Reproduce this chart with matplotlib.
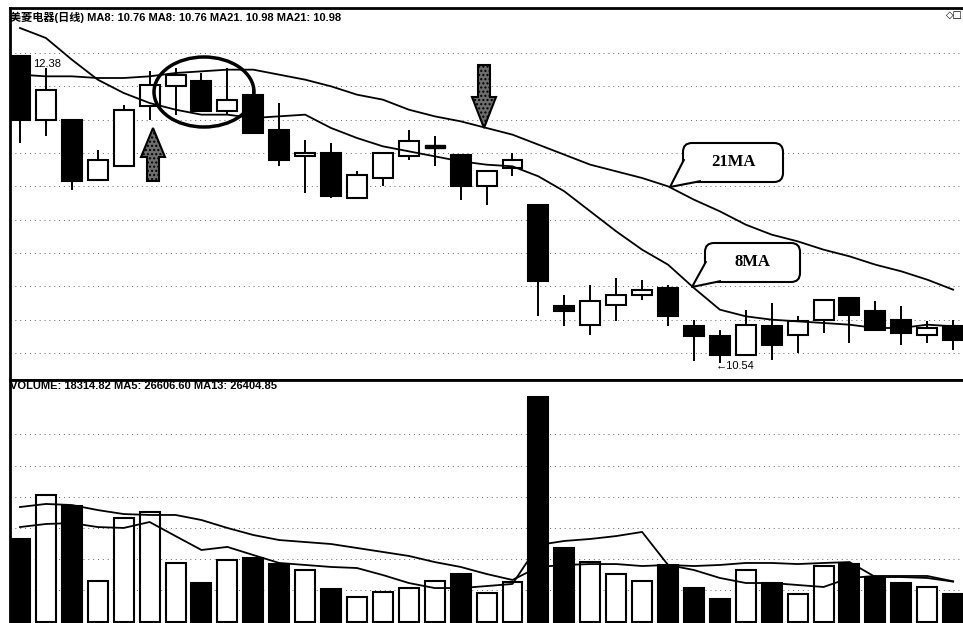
import matplotlib
matplotlib.use("Agg")
import matplotlib.pyplot as plt
from matplotlib.patches import Rectangle, Ellipse, Polygon, FancyBboxPatch
import numpy as np

# daily candles (price)
opens  = [12.38, 12.00, 12.00, 11.64, 11.72, 12.08, 12.20, 12.23, 12.05, 12.15,
          11.94, 11.78, 11.80, 11.53, 11.65, 11.78, 11.84, 11.79, 11.60, 11.71,
          11.49, 10.88, 10.77, 10.89, 10.95, 10.99, 10.76, 10.70, 10.59, 10.76,
          10.71, 10.80, 10.93, 10.85, 10.80, 10.71, 10.76]
highs  = [12.38, 12.31, 12.00, 11.82, 12.09, 12.29, 12.31, 12.28, 12.31, 12.22,
          12.10, 11.88, 11.86, 11.69, 11.80, 11.94, 11.90, 11.79, 11.69, 11.80,
          11.49, 10.95, 11.01, 11.05, 11.04, 11.01, 10.80, 10.74, 10.86, 10.90,
          10.82, 10.92, 10.93, 10.91, 10.88, 10.79, 10.80]
lows   = [11.86, 11.90, 11.58, 11.64, 11.72, 12.00, 12.03, 12.05, 12.03, 11.92,
          11.72, 11.56, 11.53, 11.53, 11.60, 11.76, 11.72, 11.52, 11.49, 11.66,
          10.82, 10.76, 10.71, 10.79, 10.92, 10.76, 10.55, 10.54, 10.58, 10.56,
          10.60, 10.72, 10.66, 10.74, 10.65, 10.66, 10.62]
closes = [12.00, 12.18, 11.63, 11.76, 12.06, 12.21, 12.27, 12.05, 12.12, 11.92,
          11.76, 11.80, 11.54, 11.67, 11.80, 11.87, 11.84, 11.60, 11.69, 11.76,
          11.03, 10.85, 10.91, 10.95, 10.98, 10.82, 10.70, 10.59, 10.77, 10.65,
          10.79, 10.92, 10.83, 10.74, 10.72, 10.75, 10.68]

ma8  = [12.55, 12.49, 12.36, 12.24, 12.16, 12.10, 12.06, 12.03, 12.03, 12.01,
        12.02, 12.03, 11.95, 11.89, 11.84, 11.81, 11.78, 11.75, 11.73, 11.72,
        11.66, 11.57, 11.45, 11.33, 11.22, 11.13, 10.99, 10.86, 10.82, 10.80,
        10.79, 10.78, 10.77, 10.75, 10.75, 10.77, 10.76]
ma21 = [12.27, 12.26, 12.26, 12.25, 12.25, 12.26, 12.28, 12.29, 12.30, 12.30,
        12.27, 12.24, 12.20, 12.15, 12.12, 12.06, 12.02, 11.99, 11.95, 11.91,
        11.85, 11.79, 11.73, 11.69, 11.65, 11.60, 11.52, 11.45, 11.37, 11.31,
        11.27, 11.22, 11.18, 11.13, 11.09, 11.04, 10.98]

volume = [54300, 83000, 75900, 26800, 68000, 72000, 38600, 25500, 40500, 41900,
          37900, 34000, 21600, 16400, 19600, 22200, 26800, 31400, 19000, 26200,
          147000, 48400, 39200, 31400, 26800, 37300, 22200, 15000, 34000, 25500,
          18300, 36600, 37900, 29400, 25500, 22900, 18314.82]
vol_ma5 = [62100, 64100, 64700, 62100, 61500, 65400, 56200, 47100, 49100, 43800,
           38600, 37300, 36000, 35300, 30700, 25500, 22200, 22200, 23500, 24900,
           50400, 53000, 54300, 56200, 58900, 37300, 34000, 28800, 25500, 25500,
           24200, 22900, 28800, 30100, 30100, 30100, 26606.60]
vol_ma13 = [75200, 77200, 76500, 73200, 70600, 70000, 70000, 66700, 61500, 56900,
            53600, 52300, 51000, 48400, 45800, 43200, 39200, 36000, 31400, 27500,
            36000, 37300, 37900, 37900, 36600, 37300, 36600, 37300, 38600, 38600,
            37900, 38600, 39200, 29400, 29400, 28800, 26404.85]

price_grid = [12.4, 12.2, 12.0, 11.8, 11.6, 11.4, 11.2, 11.0, 10.8, 10.6]
vol_grid = [21000, 41500, 61500, 81700, 102000, 123000]

title_price = "美菱电器(日线) MA8: 10.76 MA8: 10.76 MA21. 10.98 MA21: 10.98"
title_vol = "VOLUME: 18314.82 MA5: 26606.60 MA13: 26404.85"

W, H = 963, 623
fig = plt.figure(figsize=(W / 100, H / 100), dpi=100)
fig.patch.set_facecolor("white")


def box(x0, y0, x1, y1):
    return [x0 / W, 1 - y1 / H, (x1 - x0) / W, (y1 - y0) / H]


ax = fig.add_axes(box(10, 8, 963, 380))
axv = fig.add_axes(box(10, 380, 963, 623))
n = len(opens)
idx = np.arange(n)
bw = 0.77

for a in (ax, axv):
    a.set_xlim(-0.386, 36.38)
    a.set_xticks([])
    a.set_yticks([])
    for s in a.spines.values():
        s.set_linewidth(2)
        s.set_color("black")
    a.spines["right"].set_visible(False)
axv.spines["bottom"].set_visible(False)

ax.set_ylim(10.438, 12.67)
axv.set_ylim(-654, 158268)

for g in price_grid:
    ax.axhline(g, color="#666666", lw=0.7, ls=(0, (1, 4)), zorder=0)
for g in vol_grid:
    axv.axhline(g, color="#666666", lw=0.7, ls=(0, (1, 4)), zorder=0)

# candles
for i in idx:
    o, h, l, c = opens[i], highs[i], lows[i], closes[i]
    top, bot = max(o, c), min(o, c)
    ax.vlines(i, top, h, color="black", lw=1.4, zorder=2)
    ax.vlines(i, l, bot, color="black", lw=1.4, zorder=2)
    if top - bot < 0.01:
        ax.add_patch(Rectangle((i - bw / 2, top - 0.009), bw, 0.018,
                               facecolor="black", edgecolor="black", lw=1, zorder=3))
    else:
        fc = "white" if c >= o else "black"
        ax.add_patch(Rectangle((i - bw / 2, bot), bw, top - bot,
                               facecolor=fc, edgecolor="black", lw=1.5, zorder=3))

ax.plot(idx, ma8, color="black", lw=1.3, zorder=4)
ax.plot(idx, ma21, color="black", lw=1.3, zorder=4)

# volume
for i in idx:
    fc = "white" if closes[i] >= opens[i] else "black"
    axv.add_patch(Rectangle((i - bw / 2, 0), bw, volume[i],
                            facecolor=fc, edgecolor="black", lw=1.5, zorder=2))
axv.plot(idx, vol_ma5, color="black", lw=1.3, zorder=4)
axv.plot(idx, vol_ma13, color="black", lw=1.3, zorder=4)

# overlay in pixel coords for notes
ov = fig.add_axes([0, 0, 1, 1], zorder=10)
ov.set_xlim(0, W)
ov.set_ylim(H, 0)
ov.axis("off")
ov.patch.set_alpha(0)

hdr = dict(fontsize=8, fontweight="bold", family=["Liberation Sans", "Noto Sans CJK SC"],
           va="center", ha="left")
ov.text(10, 17, title_price, **hdr)
ov.text(10, 386, title_vol, **hdr)
ov.text(946, 15, "◇□", fontsize=7, va="center", ha="left", family="DejaVu Sans")

lbl = dict(fontsize=8, family="Liberation Sans", va="center", ha="left")
ov.text(33, 64, "12.38", **lbl)
ov.text(716, 366, "←10.54", **lbl)

ov.add_patch(Ellipse((204, 92), 100, 70, fill=False, edgecolor="black", lw=2.5))

up = [(153, 128), (141, 157), (147, 157), (147, 181), (159, 181), (159, 157), (165, 157)]
down = [(478, 65), (490, 65), (490, 97), (496, 97), (484, 128), (472, 97), (478, 97)]
for pts in (up, down):
    ov.add_patch(Polygon(pts, closed=True, facecolor="#6e6e6e", edgecolor="black",
                         lw=1.5, hatch="...."))


def callout(x0, y0, x1, y1, base1, tip, base2, label):
    ov.add_patch(FancyBboxPatch((x0, y0), x1 - x0, y1 - y0,
                                boxstyle="round,pad=0,rounding_size=9",
                                facecolor="white", edgecolor="black", lw=1.5, zorder=11))
    ov.add_patch(Polygon([base1, tip, base2], closed=True, facecolor="white",
                         edgecolor="none", zorder=12))
    ov.plot([base1[0], tip[0], base2[0]], [base1[1], tip[1], base2[1]],
            color="black", lw=1.5, zorder=13)
    ov.text((x0 + x1) / 2, (y0 + y1) / 2, label, fontsize=12, fontweight="bold",
            family="Liberation Serif", ha="center", va="center", zorder=14)


callout(683, 143, 783, 182, (683.8, 160), (670, 187), (700, 181.2), "21MA")
callout(705, 243, 800, 282, (705.8, 262), (692, 287), (720, 281.2), "8MA")

fig.savefig("out.png", dpi=100, facecolor="white")
